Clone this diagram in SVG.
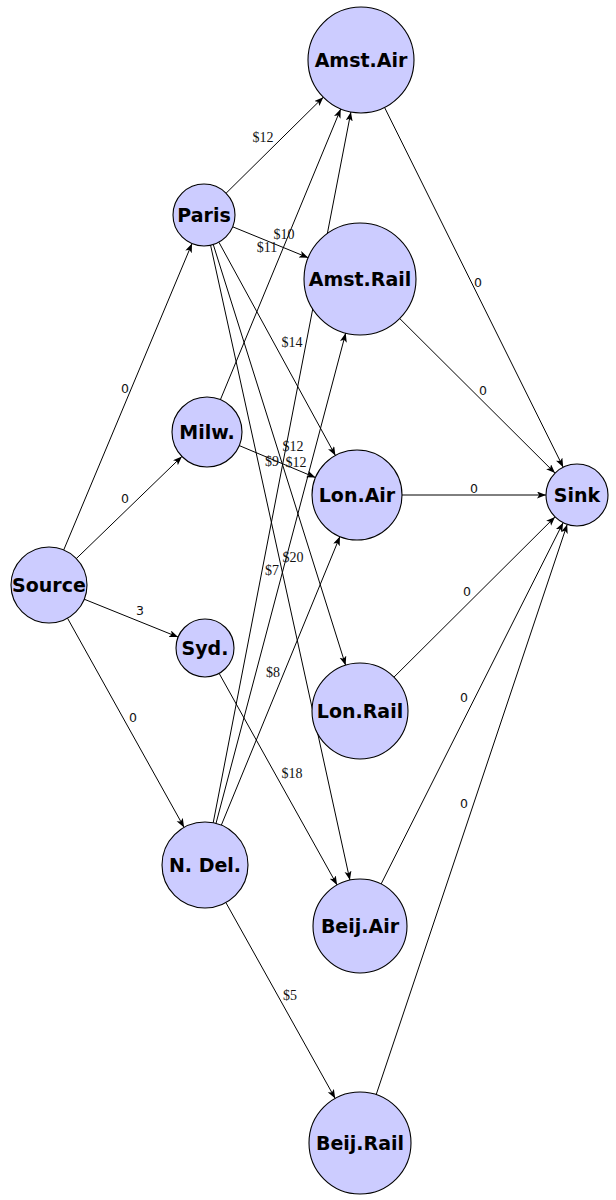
<svg xmlns="http://www.w3.org/2000/svg" width="616" height="1200" viewBox="0 0 616 1200">
  <defs>
    <marker id="arrow" markerUnits="userSpaceOnUse" markerWidth="10" markerHeight="8" refX="9" refY="3.5" orient="auto">
      <path d="M0,0 L9,3.5 L0,7 L2.2,3.5 z" fill="#000"/>
    </marker>
    <style>
      .node circle { fill: #ccccff; stroke: #000; stroke-width: 1.1; }
      .node text { font-family: "DejaVu Sans", "Liberation Sans", sans-serif; font-weight: bold; font-size: 19px; fill: #000; text-anchor: middle; dominant-baseline: central; }
      .edges line { stroke: #000; stroke-width: 1; marker-end: url(#arrow); }
      .lbl { font-family: "Liberation Serif", serif; font-size: 14px; fill: #111; text-anchor: middle; dominant-baseline: central; }
      .zero { font-family: "DejaVu Sans", "Liberation Sans", sans-serif; font-size: 12.5px; fill: #111; text-anchor: middle; dominant-baseline: central; }
    </style>
  </defs>

  <rect width="616" height="1200" fill="#fff"/>

  <!-- connectors: centre-to-centre, clipped at node borders -->
  <g id="connectors" class="edges">
    <line x1="63.7" y1="550.0" x2="192.0" y2="243.6"/>
    <line x1="76.3" y1="558.6" x2="181.9" y2="456.4"/>
    <line x1="84.2" y1="599.2" x2="178.1" y2="637.1"/>
    <line x1="67.5" y1="618.2" x2="184.1" y2="827.4"/>

    <line x1="226.1" y1="193.2" x2="323.3" y2="97.2"/>
    <line x1="232.7" y1="226.8" x2="308.2" y2="257.7"/>
    <line x1="218.9" y1="242.2" x2="335.4" y2="455.5"/>
    <line x1="213.3" y1="244.6" x2="345.6" y2="665.2"/>
    <line x1="210.6" y1="245.3" x2="349.9" y2="880.1"/>

    <line x1="220.4" y1="399.7" x2="340.7" y2="109.0"/>
    <line x1="239.3" y1="445.6" x2="315.5" y2="477.6"/>

    <line x1="219.1" y1="673.3" x2="337.1" y2="885.0"/>

    <line x1="213.2" y1="822.8" x2="350.9" y2="112.0"/>
    <line x1="216.0" y1="823.4" x2="345.7" y2="333.1"/>
    <line x1="221.3" y1="825.2" x2="339.9" y2="536.6"/>
    <line x1="225.9" y1="902.6" x2="335.2" y2="1098.5"/>

    <line x1="384.6" y1="107.5" x2="563.2" y2="467.2"/>
    <line x1="399.7" y1="318.5" x2="555.0" y2="473.1"/>
    <line x1="402" y1="495" x2="546" y2="495"/>
    <line x1="394.0" y1="677.1" x2="555.0" y2="516.9"/>
    <line x1="381.1" y1="884.0" x2="563.1" y2="522.7"/>
    <line x1="376.2" y1="1094.6" x2="567.2" y2="524.4"/>
  </g>

  <!-- edge labels -->
  <g id="edge-labels">
    <text class="zero" x="125" y="388">0</text>
    <text class="zero" x="125" y="498">0</text>
    <text class="zero" x="140" y="610">3</text>
    <text class="zero" x="133" y="717">0</text>

    <text class="lbl" x="263" y="137">$12</text>
    <text class="lbl" x="284" y="234">$10</text>
    <text class="lbl" x="267" y="247">$11</text>
    <text class="lbl" x="292" y="342">$14</text>
    <text class="lbl" x="293" y="446">$12</text>
    <text class="lbl" x="296" y="462">$12</text>
    <text class="lbl" x="272" y="461">$9</text>
    <text class="lbl" x="272" y="570">$7</text>
    <text class="lbl" x="293" y="557">$20</text>
    <text class="lbl" x="273" y="672">$8</text>
    <text class="lbl" x="292" y="773">$18</text>
    <text class="lbl" x="290" y="995">$5</text>

    <text class="zero" x="478" y="282">0</text>
    <text class="zero" x="483" y="390">0</text>
    <text class="zero" x="474" y="488">0</text>
    <text class="zero" x="467" y="591">0</text>
    <text class="zero" x="464" y="697">0</text>
    <text class="zero" x="464" y="803">0</text>
  </g>

  <!-- nodes -->
  <g id="source" class="node"><circle cx="49" cy="585" r="38"/><text x="49" y="585">Source</text></g>
  <g id="paris" class="node"><circle cx="204" cy="215" r="31"/><text x="204" y="215">Paris</text></g>
  <g id="milw" class="node"><circle cx="207" cy="432" r="35"/><text x="207" y="432">Milw.</text></g>
  <g id="syd" class="node"><circle cx="205" cy="648" r="29"/><text x="205" y="648">Syd.</text></g>
  <g id="ndel" class="node"><circle cx="205" cy="865" r="43"/><text x="205" y="865">N. Del.</text></g>
  <g id="amst-air" class="node"><circle cx="361" cy="60" r="53"/><text x="361" y="60">Amst.Air</text></g>
  <g id="amst-rail" class="node"><circle cx="360" cy="279" r="56"/><text x="360" y="279">Amst.Rail</text></g>
  <g id="lon-air" class="node"><circle cx="357" cy="495" r="45"/><text x="357" y="495">Lon.Air</text></g>
  <g id="lon-rail" class="node"><circle cx="360" cy="711" r="48"/><text x="360" y="711">Lon.Rail</text></g>
  <g id="beij-air" class="node"><circle cx="360" cy="926" r="47"/><text x="360" y="926">Beij.Air</text></g>
  <g id="beij-rail" class="node"><circle cx="360" cy="1143" r="51"/><text x="360" y="1143">Beij.Rail</text></g>
  <g id="sink" class="node"><circle cx="577" cy="495" r="31"/><text x="577" y="495">Sink</text></g>
</svg>
